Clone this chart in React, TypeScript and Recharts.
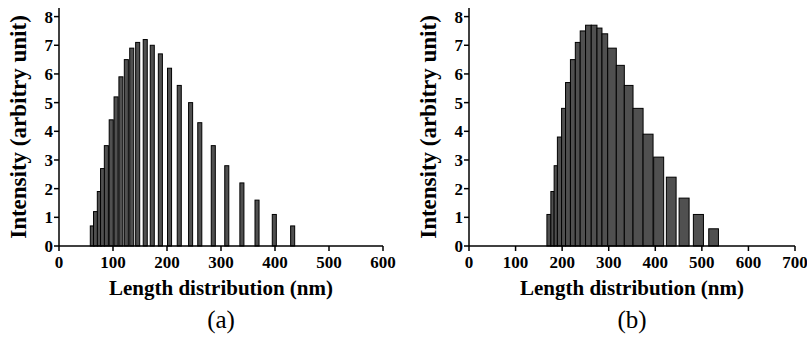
import { BarChart, Bar, XAxis, YAxis, Label } from "recharts";

// panel (a): bin centres (nm) and intensities
const lengthA = [61, 67, 74, 80, 87, 96, 105, 114, 124, 134, 145, 159, 172, 187, 204, 222, 243, 260, 285, 310, 338, 366, 398, 432];
const intensityA = [0.7, 1.2, 1.9, 2.7, 3.5, 4.4, 5.2, 5.9, 6.5, 6.9, 7.1, 7.2, 7.0, 6.7, 6.2, 5.6, 5.0, 4.3, 3.5, 2.8, 2.2, 1.6, 1.1, 0.7];
const binWidthA = 7.5; // nm

// panel (b): bin edges (nm) and intensities
const binStartB = [166.5, 175, 182, 189, 198, 206.5, 217, 227.5, 238, 249.5, 261.7, 274, 284.7, 297, 315.5, 332.7, 351.4, 373, 395.7, 423, 450.3, 481, 514];
const binEndB = [175, 182, 189, 198, 206.5, 217, 227.5, 238, 249.5, 261.7, 274, 284.7, 297, 315.5, 332.7, 351.4, 373, 394.4, 417.2, 443.9, 471.8, 502.6, 534.8];
const intensityB = [1.1, 1.9, 2.8, 3.8, 4.8, 5.7, 6.5, 7.1, 7.5, 7.7, 7.7, 7.6, 7.4, 6.9, 6.3, 5.6, 4.8, 3.9, 3.1, 2.4, 1.67, 1.1, 0.6];

const ticksA = [0, 100, 200, 300, 400, 500, 600];
const ticksB = [0, 100, 200, 300, 400, 500, 600, 700];
const yTicks = [0, 1, 2, 3, 4, 5, 6, 7, 8];

const dataA = lengthA.map((x, i) => ({ x, y: intensityA[i], w: binWidthA }));
const dataB = binStartB.map((s, i) => ({ x: (s + binEndB[i]) / 2, y: intensityB[i], w: binEndB[i] - s }));

const FONT = "Liberation Serif, DejaVu Serif, serif";
const H = 337;
const Y_AXIS_W = 59;
const AXIS_H = 91;
const TOP = 8;

const tickStyle = { fontFamily: FONT, fontWeight: 700, fontSize: 17, fill: "#000" };

function binShape(pxPerNm: number) {
  return (props: any) => {
    const { x, width, y, height, payload } = props;
    const w = payload.w * pxPerNm;
    const cx = x + width / 2;
    return (
      <rect x={cx - w / 2} y={y} width={w} height={height} fill="#505050" stroke="#000" strokeWidth={1} />
    );
  };
}

interface PanelProps {
  data: { x: number; y: number; w: number }[];
  xMax: number;
  xTicks: number[];
  left: number;
  width: number;
  marginRight: number;
  caption: string;
}

function Panel({ data, xMax, xTicks, left, width, marginRight, caption }: PanelProps) {
  const plotW = width - Y_AXIS_W - marginRight;
  const shape = binShape(plotW / xMax);
  return (
    <div style={{ position: "absolute", left, top: 0, fontFamily: FONT }}>
      <BarChart width={width} height={H} data={data} margin={{ top: TOP, right: marginRight, bottom: 0, left: 0 }}>
        <XAxis
          dataKey="x"
          type="number"
          domain={[0, xMax]}
          ticks={xTicks}
          height={AXIS_H}
          tick={tickStyle}
          tickSize={5}
          tickMargin={5}
          axisLine={{ stroke: "#000", strokeWidth: 1.5 }}
          tickLine={{ stroke: "#000", strokeWidth: 1.5 }}
          interval={0}
        >
          <Label
            value="Length distribution (nm)"
            position="insideTop"
            offset={34}
            style={{ fontFamily: FONT, fontWeight: 700, fontSize: 21, fill: "#000" }}
          />
          <Label
            value={caption}
            position="insideTop"
            offset={64}
            style={{ fontFamily: FONT, fontWeight: 400, fontSize: 25, fill: "#000" }}
          />
        </XAxis>
        <XAxis xAxisId="top" orientation="top" type="number" domain={[0, xMax]} height={0} tick={false} tickLine={false} axisLine={{ stroke: "#000", strokeWidth: 1.5 }} />
        <YAxis
          type="number"
          domain={[0, 8.3]}
          ticks={yTicks}
          width={Y_AXIS_W}
          tick={tickStyle}
          tickSize={5}
          tickMargin={1}
          axisLine={{ stroke: "#000", strokeWidth: 1.5 }}
          tickLine={{ stroke: "#000", strokeWidth: 1.5 }}
          interval={0}
        >
          <Label
            value="Intensity (arbitry unit)"
            angle={-90}
            position="insideLeft"
            offset={18}
            style={{ fontFamily: FONT, fontWeight: 700, fontSize: 23, fill: "#000", textAnchor: "middle" }}
          />
        </YAxis>
        <YAxis yAxisId="right" orientation="right" type="number" domain={[0, 8.3]} width={0} tick={false} tickLine={false} axisLine={{ stroke: "#000", strokeWidth: 1.5 }} />
        <Bar dataKey="y" barSize={2} shape={shape} isAnimationActive={false} />
      </BarChart>
    </div>
  );
}

export default function App() {
  return (
    <div style={{ position: "absolute", left: 0, top: 0, width: 807, height: H, background: "#fff" }}>
      <Panel data={dataA} xMax={600} xTicks={ticksA} left={0} width={400} marginRight={17} caption="(a)" />
      <Panel data={dataB} xMax={700} xTicks={ticksB} left={410} width={397} marginRight={12} caption="(b)" />
    </div>
  );
}
